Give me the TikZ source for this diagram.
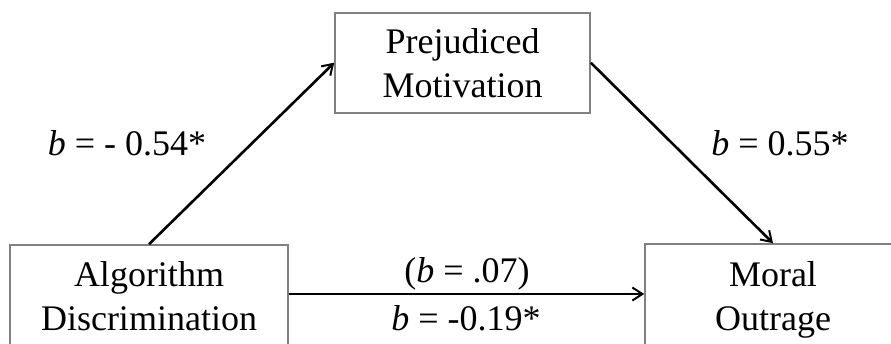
\documentclass[tikz,border=0pt]{standalone}
\usepackage{fontspec}
\setmainfont{Liberation Serif}
\usetikzlibrary{arrows.meta}
\begin{document}
\begin{tikzpicture}[x=1pt,y=-1pt,
  box/.style={draw=black!50,line width=1.6pt,inner sep=0pt,align=center,font=\fontsize{36}{44}\selectfont},
  lbl/.style={anchor=base,inner sep=0pt,font=\fontsize{36}{42}\selectfont},
  conn/.style={line width=2.6pt,-{Straight Barb[length=10pt,width=13pt,line width=2pt]}}]
\clip (0,0) rectangle (891,343);
\fill[white] (0,0) rectangle (891,343);
\node[box,minimum width=255pt,minimum height=100pt] (prej) at (462.5,62.7) {Prejudiced\\Motivation};
\node[box,minimum width=278pt,minimum height=101.4pt] (algo) at (149,295.7) {Algorithm\\Discrimination};
\node[box,minimum width=256pt,minimum height=111.2pt] (moral) at (773,299.6) {Moral\\Outrage};
\draw[conn] (algo.north) -- (prej.west);
\draw[conn] (prej.east) -- (moral.north);
\draw[conn] (algo.east |- 0,294) -- (moral.west |- 0,294);
\node[lbl] (l1) at (127,155) {\textit{b} = - 0.54*};
\node[lbl] (l2) at (780,155) {\textit{b} = 0.55*};
\node[lbl] (l3) at (467,282) {(\textit{b} = .07)};
\node[lbl] (l4) at (466,330) {\textit{b} = -0.19*};
\end{tikzpicture}
\end{document}
